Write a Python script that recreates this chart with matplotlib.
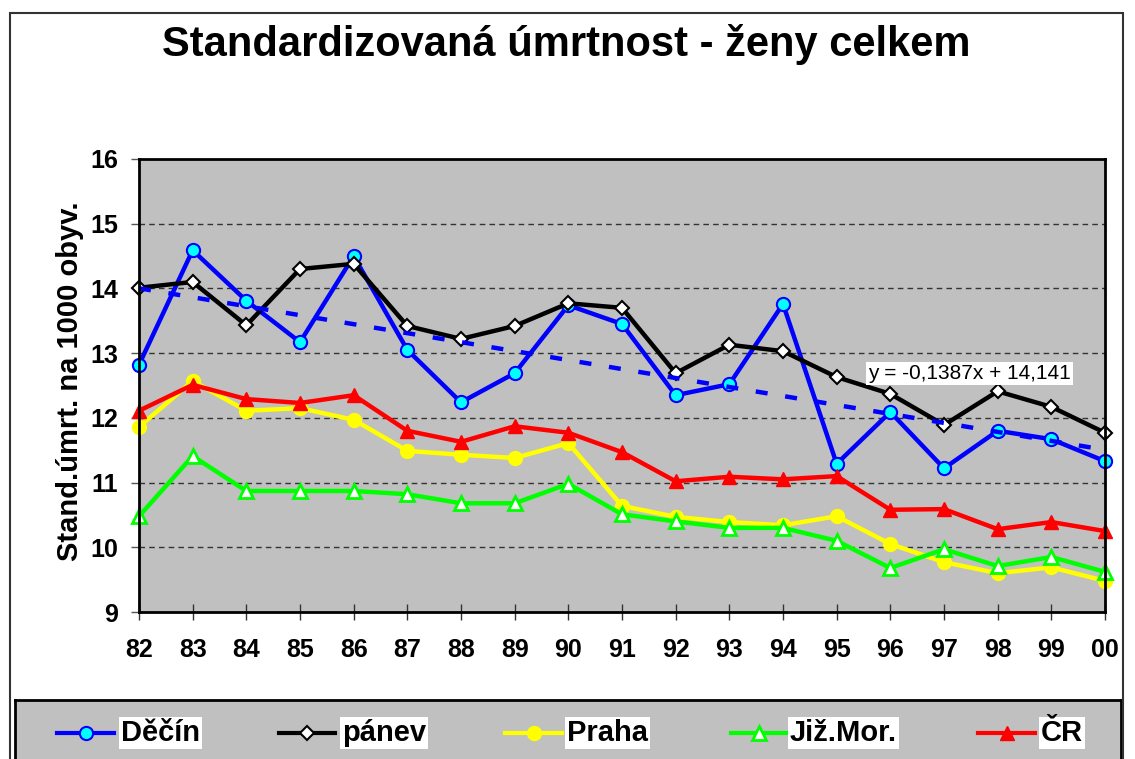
import matplotlib
matplotlib.use("Agg")
import matplotlib.pyplot as plt
from matplotlib.patches import Rectangle
import numpy as np

# ---- data ----
years = ["82", "83", "84", "85", "86", "87", "88", "89", "90", "91",
         "92", "93", "94", "95", "96", "97", "98", "99", "00"]
decin = [12.82, 14.59, 13.81, 13.17, 14.50, 13.05, 12.24, 12.69, 13.74, 13.45,
         12.35, 12.52, 13.76, 11.29, 12.09, 11.22, 11.80, 11.67, 11.33]
panev = [14.01, 14.10, 13.43, 14.30, 14.38, 13.42, 13.22, 13.42, 13.77, 13.70,
         12.69, 13.13, 13.03, 12.63, 12.37, 11.89, 12.41, 12.17, 11.77]
praha = [11.86, 12.57, 12.11, 12.15, 11.97, 11.49, 11.43, 11.38, 11.61, 10.64,
         10.47, 10.39, 10.34, 10.48, 10.05, 9.77, 9.60, 9.69, 9.48]
jizmor = [10.48, 11.41, 10.87, 10.87, 10.87, 10.82, 10.68, 10.68, 10.98, 10.51,
          10.40, 10.30, 10.30, 10.10, 9.68, 9.97, 9.71, 9.85, 9.62]
cr = [12.11, 12.51, 12.29, 12.23, 12.35, 11.80, 11.63, 11.87, 11.77, 11.47,
      11.02, 11.09, 11.05, 11.10, 10.58, 10.59, 10.28, 10.39, 10.25]
trend_slope = -0.1387
trend_intercept = 14.141
series_names = ["Děčín", "pánev", "Praha", "Již.Mor.", "ČR"]
yticks = [9, 10, 11, 12, 13, 14, 15, 16]

plt.rcParams['font.family'] = ['Liberation Sans', 'DejaVu Sans']

W, H = 1135, 759
fig = plt.figure(figsize=(W / 100, H / 100), dpi=100)
fig.patch.set_facecolor('white')

def fx(px):
    return px / W

def fy(py):
    return 1 - py / H

# outer frame
fig.patches.append(Rectangle((fx(10), fy(800)), fx(1123) - fx(10), fy(13) - fy(800),
                             transform=fig.transFigure, fill=False,
                             edgecolor='#333333', linewidth=1.5, zorder=0))

ax = fig.add_axes([fx(139), fy(612), fx(1105) - fx(139), fy(159) - fy(612)])
ax.set_facecolor('#C0C0C0')
x = np.arange(len(years))

styles = [
    dict(color='#0000FF', marker='o', mfc='#00FFFF', mec='#0000FF', ms=9.5, mew=1.5),
    dict(color='#000000', marker='D', mfc='white', mec='black', ms=7.5, mew=1.5),
    dict(color='#FFFF00', marker='o', mfc='#FFFF00', mec='#FFFF00', ms=9.5, mew=1.5),
    dict(color='#00FF00', marker='^', mfc='white', mec='#00FF00', ms=9.5, mew=2),
    dict(color='#FF0000', marker='^', mfc='#FF0000', mec='#FF0000', ms=10, mew=1),
]
data = [decin, panev, praha, jizmor, cr]
for i, (d, st) in enumerate(zip(data, styles)):
    ax.plot(x, d, lw=3.2, clip_on=False, zorder=3 + i, **st)

trend = trend_slope * (x + 1) + trend_intercept
ax.plot(x, trend, color='#0000FF', lw=3.2, ls=(0, (2.7, 4)), zorder=9)

ax.set_xlim(0, len(years) - 1)
ax.set_ylim(9, 16)
ax.set_yticks(yticks)
ax.set_yticklabels([str(t) for t in yticks])
ax.set_xticks(x)
ax.set_xticklabels(years)
for t in yticks[1:-1]:
    ax.axhline(t, color='#333333', lw=1, ls=(0, (4, 3)), zorder=1)

for s in ax.spines.values():
    s.set_linewidth(2)
    s.set_color('black')
    s.set_zorder(20)

ax.tick_params(axis='y', direction='out', length=6, width=1, color='#555555',
               pad=9, labelsize=18)
ax.tick_params(axis='x', direction='inout', length=12, width=1, color='#333333',
               pad=13, labelsize=18)
for lab in ax.get_xticklabels() + ax.get_yticklabels():
    lab.set_fontweight('bold')

ax.text(0.755, 0.527, "y = -0,1387x + 14,141", transform=ax.transAxes,
        fontsize=15, ha='left', va='center', zorder=30,
        bbox=dict(facecolor='white', edgecolor='none', pad=1.5))

fig.text(0.4991, fy(56), "Standardizovaná úmrtnost - ženy celkem",
         fontsize=30, fontweight='bold', ha='center', va='baseline')
fig.text(fx(70), fy(381), "Stand.úmrt. na 1000 obyv.", rotation=90,
         fontsize=21, fontweight='bold', ha='center', va='center')

# legend box
lax = fig.add_axes([fx(15), fy(800), fx(1121) - fx(15), fy(700) - fy(800)])
lax.set_facecolor('#C0C0C0')
lax.set_xlim(15, 1121)
lax.set_ylim(800, 700)
lax.set_xticks([])
lax.set_yticks([])
for s in lax.spines.values():
    s.set_linewidth(2)
    s.set_color('black')
leg_line_x = [(57, 114), (279, 335), (505, 562), (731, 786), (978, 1035)]
leg_text_x = [121, 342, 567, 790, 1041]
for name, st, (x0, x1), tx in zip(series_names, styles, leg_line_x, leg_text_x):
    lax.plot([x0, x1], [733, 733], lw=3, color=st['color'])
    kw = {k: v for k, v in st.items() if k != 'color'}
    lax.plot([(x0 + x1) / 2], [733], color=st['color'], **kw)
    lax.text(tx, 733, name, fontsize=21, fontweight='bold', ha='left', va='center',
             bbox=dict(facecolor='white', edgecolor='none', pad=1.5))

fig.savefig("out.png", dpi=100)
